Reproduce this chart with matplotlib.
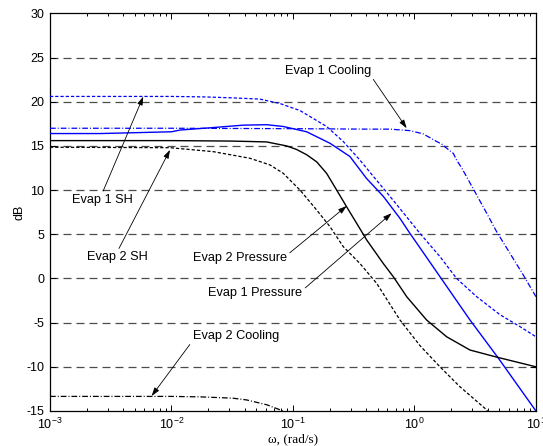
import numpy as np
import matplotlib
matplotlib.use("Agg")
import matplotlib.pyplot as plt
from matplotlib.ticker import LogLocator, FixedLocator

plt.rcParams['font.family'] = ['Liberation Sans', 'DejaVu Sans']
plt.rcParams['mathtext.fontset'] = 'custom'
plt.rcParams['mathtext.rm'] = 'Liberation Sans'
plt.rcParams['mathtext.it'] = 'Liberation Sans:italic'
plt.rcParams['axes.unicode_minus'] = False

# frequency (rad/s) and magnitude (dB)
w_e1_press = [0.001, 0.0026, 0.01, 0.0118, 0.0208, 0.039, 0.0608, 0.0832, 0.1297,
              0.2018, 0.2944, 0.4044, 0.5535, 0.76, 0.918, 1.146, 1.622, 2.864,
              4.893, 10.0]
db_e1_press = [16.4, 16.4, 16.6, 16.8, 17.05, 17.35, 17.4, 17.2, 16.6,
               15.3, 13.8, 11.3, 9.3, 6.8, 5.1, 3.2, 0.2, -4.7,
               -9.0, -15.0]

w_e1_sh = [0.001, 0.01, 0.0182, 0.0303, 0.0534, 0.0782, 0.1143, 0.1892, 0.2594,
           0.3556, 0.4887, 0.6281, 0.76, 1.11, 1.622, 2.224, 3.249, 5.054, 7.386, 10.0]
db_e1_sh = [20.6, 20.6, 20.55, 20.45, 20.3, 19.8, 19.0, 17.2, 15.5,
            13.4, 11.1, 9.3, 7.9, 5.1, 2.47, 0.0, -2.06, -4.1, -5.45, -6.6]

w_e1_cool = [0.001, 0.01, 0.1, 0.4, 0.628, 0.918, 1.181, 1.523, 1.68, 1.841, 2.09,
             2.224, 2.45, 2.689, 3.249, 3.926, 4.745, 6.109, 7.858, 10.0]
db_e1_cool = [17.0, 17.0, 16.95, 16.9, 16.9, 16.73, 16.36, 15.5, 15.2, 14.74, 14.15,
              13.4, 12.5, 11.5, 9.45, 7.4, 5.3, 2.85, 0.4, -2.06]

w_e2_press = [0.001, 0.01, 0.0303, 0.0443, 0.0608, 0.0887, 0.1071, 0.1297, 0.1567,
              0.1892, 0.2291, 0.2768, 0.3342, 0.4044, 0.5535, 0.6698, 0.863, 1.259,
              1.841, 2.864, 4.745, 10.0]
db_e2_press = [15.6, 15.6, 15.55, 15.5, 15.45, 15.0, 14.6, 14.0, 13.2,
               11.9, 10.0, 8.1, 6.25, 4.36, 1.7, 0.2, -2.06, -4.7,
               -6.6, -8.1, -8.9, -10.0]

w_e2_sh = [0.001, 0.0097, 0.0221, 0.0443, 0.0647, 0.0832, 0.1143, 0.1567, 0.2018,
           0.2594, 0.3556, 0.4887, 0.76, 1.11, 1.622, 2.366, 3.802, 4.0]
db_e2_sh = [14.85, 14.8, 14.35, 13.6, 12.85, 11.9, 10.0, 7.75, 5.86,
            3.6, 1.7, -0.55, -4.7, -7.6, -10.0, -12.25, -14.7, -15.0]

w_e2_cool = [0.001, 0.01, 0.0172, 0.032, 0.0416, 0.061, 0.083]
db_e2_cool = [-13.35, -13.35, -13.4, -13.55, -13.75, -14.3, -15.0]

fig = plt.figure(figsize=(5.43, 4.46), dpi=100)
ax = fig.add_axes([0.092, 0.0785, 0.895, 0.8915])

# horizontal dashed grid
for g in range(-10, 30, 5):
    ax.axhline(g, color='0.3', lw=0.9, ls=(0, (6.4, 4.0)), zorder=1)

blue = '#0000ff'
dash = (0, (2.6, 1.6))
dashdot = (0, (4.6, 1.6, 0.8, 1.6))
ax.plot(w_e1_press, db_e1_press, color=blue, lw=1.0, zorder=3)
ax.plot(w_e1_sh, db_e1_sh, color=blue, lw=0.9, ls=dash, zorder=3)
ax.plot(w_e1_cool, db_e1_cool, color=blue, lw=0.9, ls=dashdot, zorder=3)
ax.plot(w_e2_press, db_e2_press, color='k', lw=1.0, zorder=3)
ax.plot(w_e2_sh, db_e2_sh, color='k', lw=0.9, ls=dash, zorder=3)
ax.plot(w_e2_cool, db_e2_cool, color='k', lw=0.9, ls=dashdot, zorder=3)

ax.set_xscale('log')
ax.set_xlim(1e-3, 10)
ax.set_ylim(-15, 30)
ax.yaxis.set_major_locator(FixedLocator(range(-15, 31, 5)))
ax.xaxis.set_major_locator(LogLocator(base=10, numticks=10))
ax.xaxis.set_minor_locator(LogLocator(base=10, subs=np.arange(2, 10), numticks=10))
ax.tick_params(which='both', direction='in', top=True, right=True, labelsize=9, width=0.7)
ax.tick_params(which='major', length=4, pad=4)
ax.tick_params(which='minor', length=2.5)
for s in ax.spines.values():
    s.set_linewidth(0.9)

ax.set_ylabel('dB', fontsize=9, labelpad=1)
ax.set_xlabel('ω, (rad/s)', fontsize=9.5, family=['Liberation Serif', 'DejaVu Serif'], labelpad=1)

arrow = dict(arrowstyle='-|>,head_length=0.55,head_width=0.18', color='k', lw=0.6,
             shrinkA=0, shrinkB=0)

def note(text, xy, xytext, relpos):
    a = dict(arrow, relpos=relpos)
    ax.annotate(text, xy=xy, xytext=xytext, ha='center', va='center',
                fontsize=9.2, arrowprops=a, zorder=4)

note('Evap 1 SH', (0.00586, 20.58), (0.00268, 8.9), (0.5, 1.0))
note('Evap 2 SH', (0.00973, 14.55), (0.0036, 2.4), (0.5, 1.0))
note('Evap 2 Pressure', (0.2767, 8.2), (0.0366, 2.3), (1.0, 0.75))
note('Evap 1 Pressure', (0.6486, 7.38), (0.0491, -1.68), (1.0, 0.75))
note('Evap 2 Cooling', (0.00687, -13.3), (0.0338, -6.51), (0.0, 0.1))
note('Evap 1 Cooling', (0.863, 17.0), (0.1954, 23.52), (1.0, 0.0))

fig.savefig('out.png', dpi=100)
